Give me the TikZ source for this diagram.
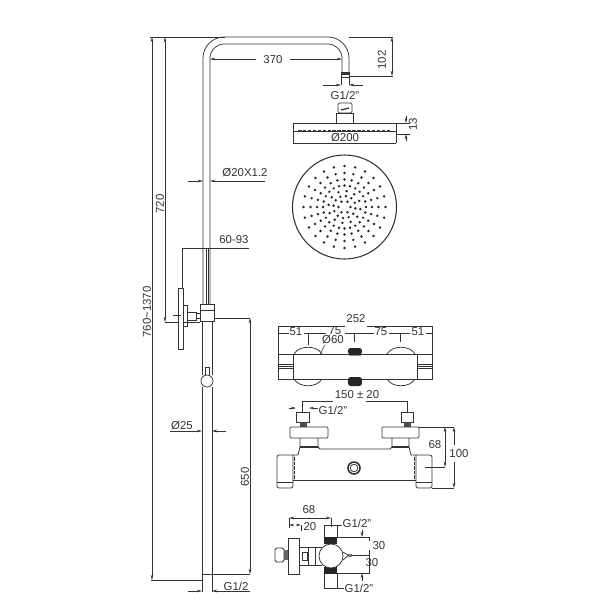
\documentclass[tikz,border=0pt]{standalone}
\usepackage{fontspec}
\setmainfont{Liberation Sans}
\usetikzlibrary{arrows.meta}
\definecolor{ink}{HTML}{333333}
\tikzset{
  ln/.style={draw=ink,line width=0.42pt},
  dm/.style={draw=ink,line width=0.32pt},
  da/.style={dm,-{Stealth[length=3pt,width=1.5pt]}},
  dd/.style={dm,{Stealth[length=3pt,width=1.5pt]}-{Stealth[length=3pt,width=1.5pt]}},
  lb/.style={font=\fontsize{6.5}{7}\selectfont,text=ink,inner sep=0pt},
  lbr/.style={lb,rotate=90},
  blk/.style={fill=black!85,draw=none}
}
\begin{document}
\begin{tikzpicture}[x=0.02cm,y=-0.02cm]
\useasboundingbox[fill=white] (0,0) rectangle (600,600);
% --- shower column
\draw[ln,rounded corners=12pt] (203,304)--(203,37)--(349,37)--(349,72);
\draw[ln,rounded corners=8pt] (210,304)--(210,44)--(342,44)--(342,72);
\draw[ln] (206,248)--(206,304) (208,248)--(208,304);
\draw[ln] (341,72) rectangle (349,77);
\draw[line width=0.7pt,draw=ink] (341,74)--(349,74);
\draw[ln] (341,77)--(341,85) (349,77)--(349,85);
% head
\draw[ln,rounded corners=0.8pt] (338,103) rectangle (352,113);
\draw[line width=0.7pt,draw=ink] (341,110)--(349,108);
\draw[ln] (336,113) rectangle (353,123);
\draw[ln] (293,123) rectangle (396,131);
\draw[line width=0.7pt,draw=ink,dash pattern=on 2pt off 0.8pt] (298,131)--(390,131);
\draw[dm] (293,131)--(293,143) (396,131)--(396,143);
\draw[dm] (293,143)--(396,143);
\node[lb,fill=white,inner sep=0.6pt] (d200) at (345,138) {Ø200};
\draw[dm] (396,123)--(410,123) (396,134)--(410,134);
\draw[da] (406,116)--(406,123);
\draw[da] (406,141)--(406,134);
\node[lbr] (d13) at (413,124) {13};
% spray disc
\draw[line width=0.6pt,draw=ink] (344.5,207) circle[radius=52];
\foreach \r in {41,34,27.5,21.5}{
  \foreach \a in {0,15,...,345}{
    \fill[black!85] ({344.5+\r*cos(\a)},{207+\r*sin(\a)}) circle[radius=1.35];
  }
}
\foreach \r in {16,11}{
  \foreach \a in {7.5,37.5,...,337.5}{
    \fill[black!85] ({344.5+\r*cos(\a)},{207+\r*sin(\a)}) circle[radius=1.35];
  }
}
\foreach \a in {0,60,...,300}{
  \fill[black!85] ({344.5+6*cos(\a)},{207+6*sin(\a)}) circle[radius=1.35];
}
% holder
\draw[ln] (178,288) rectangle (183,349);
\draw[ln] (183,305) rectangle (187,326);
\draw[ln] (187,312) rectangle (196,320);
\draw[ln] (196,313) rectangle (200,318);
\draw[ln] (200,304) rectangle (214,321);
\draw[ln] (200,310)--(214,310);
\draw[dm] (173,315)--(181,315);
% lower pipe
\draw[ln] (202,321)--(202,375) (212,321)--(212,375);
\draw[ln] (202,387)--(202,592) (212,387)--(212,592);
\draw[ln] (205,367) rectangle (209,375);
\draw[ln,fill=white] (207,381) circle[radius=6];
\draw[ln] (202,574)--(212,574);
% column dims
\draw[dm] (150,37)--(225,37);
\draw[dd] (152,37)--(152,580);
\draw[dm] (151,580)--(202,580);
\draw[dd] (165,37)--(165,322);
\draw[dm] (165,322)--(178,322) (183,322)--(200,322);
\node[lbr,fill=white,inner sep=0.5pt] (d720) at (160,204) {720};
\node[lbr] (d760) at (147,312) {760\textasciitilde 1370};
\draw[dm] (182,288)--(182,248)--(249,248);
\node[lb] (d6093) at (234,240) {60-93};
\draw[da] (188,181)--(203,181);
\draw[da] (265,181)--(210,181);
\node[lb] (d20) at (245,173) {Ø20X1.2};
\draw[dm] (214,318)--(250,318);
\draw[dd] (250,318)--(250,574);
\draw[dm] (212,574)--(250,574);
\node[lbr] (d650) at (245,477) {650};
\draw[da] (170,431)--(202,431);
\draw[da] (226,431)--(212,431);
\node[lb] (d25) at (182,426) {Ø25};
\draw[da] (188,591)--(202,591);
\draw[da] (250,591)--(212,591);
\node[lb] (dg12) at (236,586) {G1/2};
% 370 / 102 / G1/2
\draw[da] (256,59)--(210,59);
\draw[da] (290,59)--(342,59);
\node[lb] (d370) at (273,60) {370};
\draw[dm] (349,37)--(393,37) (349,76)--(393,76);
\draw[dd] (392,37)--(392,76);
\node[lbr] (d102) at (382,60) {102};
\draw[da] (323,85)--(341,85);
\draw[da] (363,85)--(349,85);
\node[lb] (dg1) at (345,95) {G1/2"};
% --- top view of the mixer
\draw[ln] (293,354) rectangle (417,379);
\draw[ln] (278,354) rectangle (293,379);
\draw[ln] (417,354) rectangle (432,379);
\foreach \y in {364,366,368}{\draw[ln] (278,\y)--(293,\y) (417,\y)--(432,\y);}
\draw[ln] (294,354) .. controls (299,345) and (317,345) .. (322,354);
\draw[ln] (294,379) .. controls (299,388) and (317,388) .. (322,379);
\draw[ln] (387,354) .. controls (392,345) and (410,345) .. (415,354);
\draw[ln] (387,379) .. controls (392,388) and (410,388) .. (415,379);
\fill[blk,rounded corners=1.5pt] (348,348) rectangle (362,354.5);
\fill[blk,rounded corners=1.5pt] (348,377) rectangle (362,386);
\draw[ln,draw=black!45] (349,355.5)--(361,355.5);
\draw[dm] (278,326)--(278,354) (432,326)--(432,354);
\draw[dm] (278,326)--(345,326) (367,326)--(432,326);
\node[lb] (d252) at (356,319) {252};
\draw[dm] (278,333)--(289,333) (304,333)--(326,333) (345,333)--(374,333) (389,333)--(410,333) (426,333)--(432,333);
\node[lb] (d51a) at (296,332) {51};
\node[lb] (d75a) at (335,331) {75};
\node[lb] (d75b) at (381,332) {75};
\node[lb] (d51b) at (418,332) {51};
\node[lb] (d60) at (333,340) {Ø60};
\draw[dm] (320,354)--(325,345);
\draw[dm] (308,333)--(308,345) (304,333)--(312,333);
\draw[dm] (354,333)--(354,342) (350,333)--(358,333);
\draw[dm] (400,333)--(400,342) (396,333)--(404,333);
% --- front view
\node[lb] (d150) at (357,395) {150 ± 20};
\draw[dm] (302,413)--(302,401)--(333,401);
\draw[dm] (366,401)--(407,401)--(407,413);
\draw[ln] (296,412) rectangle (309,422);
\draw[ln] (401,412) rectangle (413,422);
\fill[black!70] (300,422) rectangle (307,427);
\fill[black!70] (404,422) rectangle (411,427);
\draw[ln,rounded corners=0.6pt] (290,427) rectangle (328,438);
\draw[ln,rounded corners=0.6pt] (382,427) rectangle (419,438);
% neck and body outline
\draw[ln] (300,438)--(300,447)--(298,455);
\draw[ln] (409,438)--(409,447)--(411,455);
\draw[line width=0.7pt,draw=ink] (300,447)--(318,447) (392,447)--(409,447);
\draw[ln] (318,438)--(318,447)--(320,449)--(390,449)--(392,447)--(392,438);
\draw[ln] (293,480)--(416,480);
% end caps
\draw[ln,rounded corners=1.2pt] (298,455)--(277,455)--(277,488)--(293,488)--(293,455);
\draw[ln,rounded corners=1.2pt] (411,455)--(432,455)--(432,488)--(416,488)--(416,455);
\draw[ln,dash pattern=on 2pt off 0.6pt] (294.5,457)--(294.5,480) (414.5,457)--(414.5,480);
\draw[ln] (277,482)--(293,482) (416,482)--(432,482);
\draw[line width=0.9pt,draw=ink] (354,468) circle[radius=6];
\draw[ln] (354,468) circle[radius=3.8];
\draw[da] (289,408)--(296,408);
\draw[da] (318,408)--(309,408);
\node[lb] (dg2) at (333,410) {G1/2"};
\draw[dm] (419,427)--(454,427) (425,467)--(445,467) (432,488)--(454,488);
\draw[dd] (445,427)--(445,467);
\draw[da] (454,445)--(454,427);
\draw[da] (454,462)--(454,488);
\node[lb] (d68) at (435,445) {68};
\node[lb] (d100) at (459,454) {100};
% --- side view
\node[lb] (d68b) at (309,510) {68};
\draw[dd] (289,518)--(331,518);
\draw[dm] (289,518)--(289,528) (331,518)--(331,527);
\draw[dm] (301,525)--(301,531);
\draw[da] (293,525)--(289,525);
\draw[da] (297,525)--(301,525);
\node[lb] (d20b) at (310,527) {20};
\draw[dm] (324,537)--(324,525)--(342,525);
\draw[dm] (337,525)--(337,537);
\node[lb] (dg3) at (357,523) {G1/2"};
\fill[blk] (324,537) rectangle (337,544);
\fill[blk] (324,567) rectangle (337,574);
\draw[dm] (324,574)--(324,588)--(344,588);
\draw[dm] (337,574)--(337,588);
\node[lb] (dg4) at (359,588) {G1/2"};
\draw[ln] (288,538) rectangle (299,574);
\draw[ln] (299,547)--(322,547) (299,565)--(322,565);
\draw[ln] (302,552) rectangle (307,560);
\draw[ln] (308,547)--(308,565) (315,547)--(315,565);
\draw[ln,rounded corners=1pt] (275,548) rectangle (284,562);
\fill[black!60] (284,550) rectangle (288,560);
\draw[ln,fill=white] (331,556) circle[radius=12];
\draw[ln] (343,552)--(347,554.5)--(352,554.5) (343,560)--(347,556.5)--(352,556.5);
\fill[black!55] (347,554.3) rectangle (352,556.7);
\draw[dm] (337,537)--(369,537)--(369,541) (352,555)--(369,555) (369,550)--(369,573)--(337,573);
\draw[da] (362,530)--(362,537);
\draw[da] (362,581)--(362,573);
\node[lb] (d30a) at (379,546) {30};
\node[lb] (d30b) at (372,563) {30};
\end{tikzpicture}
\end{document}
